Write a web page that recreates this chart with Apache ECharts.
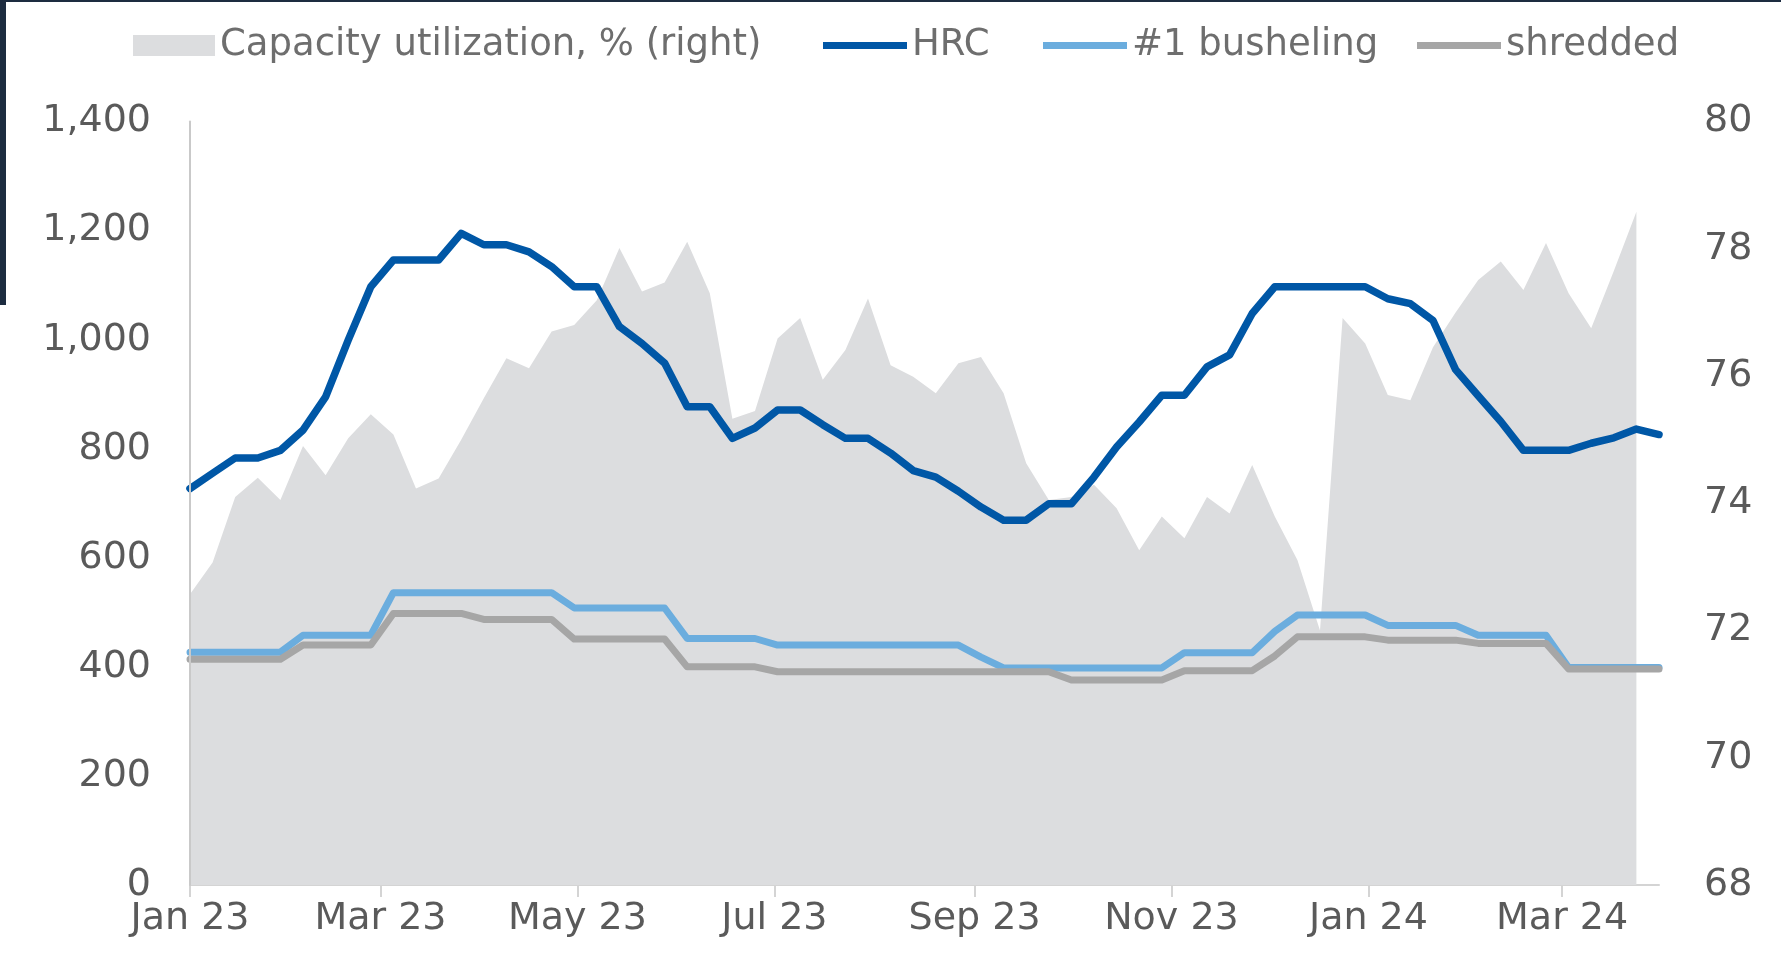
<!DOCTYPE html>
<html>
<head>
<meta charset="utf-8">
<script src="https://cdn.jsdelivr.net/npm/echarts@6/dist/echarts.min.js"></script>
<style>
  html, body { margin: 0; padding: 0; background: #ffffff; }
  #chart { width: 1781px; height: 959px; }
</style>
</head>
<body>
<div id="chart"></div>
<script>
// Weekly observation dates
var weekDates = [
  '2023-01-01','2023-01-08','2023-01-15','2023-01-22','2023-01-29',
  '2023-02-05','2023-02-12','2023-02-19','2023-02-26',
  '2023-03-05','2023-03-12','2023-03-19','2023-03-26',
  '2023-04-02','2023-04-09','2023-04-16','2023-04-23','2023-04-30',
  '2023-05-07','2023-05-14','2023-05-21','2023-05-28',
  '2023-06-04','2023-06-11','2023-06-18','2023-06-25',
  '2023-07-02','2023-07-09','2023-07-16','2023-07-23','2023-07-30',
  '2023-08-06','2023-08-13','2023-08-20','2023-08-27',
  '2023-09-03','2023-09-10','2023-09-17','2023-09-24',
  '2023-10-01','2023-10-08','2023-10-15','2023-10-22','2023-10-29',
  '2023-11-05','2023-11-12','2023-11-19','2023-11-26',
  '2023-12-03','2023-12-10','2023-12-17','2023-12-24','2023-12-31',
  '2024-01-07','2024-01-14','2024-01-21','2024-01-28',
  '2024-02-04','2024-02-11','2024-02-18','2024-02-25',
  '2024-03-03','2024-03-10','2024-03-17','2024-03-24','2024-03-31'
];

// Capacity utilization, % (right axis) - 65 weeks
var capacity = [
  72.57, 73.07, 74.10, 74.40, 74.05, 74.90, 74.44, 75.02, 75.40, 75.08,
  74.23, 74.39, 75.00, 75.65, 76.28, 76.12, 76.70, 76.80, 77.19, 78.01,
  77.33, 77.47, 78.11, 77.30, 75.33, 75.45, 76.59, 76.91, 75.94, 76.41,
  77.22, 76.17, 75.99, 75.73, 76.20, 76.30, 75.73, 74.63, 74.05, 74.10,
  74.29, 73.92, 73.26, 73.79, 73.45, 74.10, 73.84, 74.60, 73.79, 73.11,
  72.00, 76.91, 76.51, 75.70, 75.62, 76.45, 77.00, 77.51, 77.80, 77.35,
  78.09, 77.30, 76.75, 77.65, 78.58
];

// HRC price - 66 weeks
var hrc = [
  727, 755, 783, 783, 797, 834, 895, 999, 1097, 1146,
  1146, 1146, 1195, 1174, 1174, 1161, 1134, 1097, 1097, 1024,
  993, 957, 877, 877, 819, 838, 871, 871, 844, 819,
  819, 792, 760, 748, 722, 693, 669, 669, 699, 699,
  748, 803, 849, 898, 898, 950, 972, 1048, 1097, 1097,
  1097, 1097, 1097, 1075, 1066, 1035, 945, 897, 850, 797,
  797, 797, 810, 820, 836, 826
];

// #1 busheling scrap - 66 weeks
var busheling = [
  427, 427, 427, 427, 427, 458, 458, 458, 458, 536,
  536, 536, 536, 536, 536, 536, 536, 508, 508, 508,
  508, 508, 452, 452, 452, 452, 440, 440, 440, 440,
  440, 440, 440, 440, 440, 418, 398, 398, 398, 398,
  398, 398, 398, 398, 426, 426, 426, 426, 465, 495,
  495, 495, 495, 476, 476, 476, 476, 458, 458, 458,
  458, 399, 399, 399, 399, 399
];

// Shredded scrap - 66 weeks
var shredded = [
  414, 414, 414, 414, 414, 440, 440, 440, 440, 498,
  498, 498, 498, 487, 487, 487, 487, 451, 451, 451,
  451, 451, 400, 400, 400, 400, 391, 391, 391, 391,
  391, 391, 391, 391, 391, 391, 391, 391, 391, 376,
  376, 376, 376, 376, 393, 393, 393, 393, 420, 455,
  455, 455, 455, 449, 449, 449, 449, 443, 443, 443,
  443, 396, 396, 396, 396, 396
];

// X-axis tick dates and labels
var tickDates = ['2023-01-01','2023-03-01','2023-05-01','2023-07-01','2023-09-01','2023-11-01','2024-01-01','2024-03-01'];
var tickLabels = ['Jan 23','Mar 23','May 23','Jul 23','Sep 23','Nov 23','Jan 24','Mar 24'];

// Series names
var seriesNames = ['Capacity utilization, % (right)', 'HRC', '#1 busheling', 'shredded'];
var seriesColors = ['#dcdddf', '#0057a6', '#6badde', '#a6a6a6'];

function parseDate(s) {
  var p = s.split('-');
  return Date.UTC(+p[0], +p[1] - 1, +p[2]);
}
var tickTimes = tickDates.map(parseDate);
function pairs(vals) {
  return vals.map(function (v, i) { return [parseDate(weekDates[i]), v]; });
}

var FONT = '"DejaVu Sans", Verdana, sans-serif';
var TEXT = '#5a5a5a';
var LEG_TEXT = { fontSize: 37, color: '#6e6e6e', fontFamily: FONT };

function lineLegend(name, left) {
  return {
    data: [name], left: left, top: 22,
    icon: 'rect', itemWidth: 84, itemHeight: 7,
    textStyle: LEG_TEXT
  };
}

var chart = echarts.init(document.getElementById('chart'), null, { renderer: 'canvas' });
chart.setOption({
  backgroundColor: '#ffffff',
  animation: false,
  textStyle: { fontFamily: FONT },
  graphic: [
    { type: 'rect', shape: { x: 0, y: 0, width: 1781, height: 2 }, style: { fill: '#1d2c40' }, silent: true },
    { type: 'rect', shape: { x: 0, y: 0, width: 6, height: 305 }, style: { fill: '#1d2c40' }, silent: true }
  ],
  legend: [
    {
      data: [seriesNames[0]], left: 128, top: 22,
      icon: 'rect', itemWidth: 82, itemHeight: 21,
      textStyle: LEG_TEXT
    },
    lineLegend(seriesNames[1], 818),
    lineLegend(seriesNames[2], 1038),
    lineLegend(seriesNames[3], 1412)
  ],
  grid: { left: 190, right: 122, top: 121.5, bottom: 74, containLabel: false },
  xAxis: {
    type: 'value',
    min: parseDate(weekDates[0]),
    max: parseDate(weekDates[weekDates.length - 1]),
    splitLine: { show: false },
    axisLine: { show: true, onZero: false, lineStyle: { color: '#d4d4d4', width: 2 } },
    axisTick: { show: true, length: 12, lineStyle: { color: '#d4d4d4', width: 2 }, customValues: tickTimes },
    axisLabel: {
      customValues: tickTimes,
      margin: 15,
      fontSize: 38,
      color: TEXT,
      fontFamily: FONT,
      formatter: function (val) {
        var idx = tickTimes.indexOf(+val);
        return idx >= 0 ? tickLabels[idx] : '';
      }
    }
  },
  yAxis: [
    {
      type: 'value', min: 0, max: 1400, interval: 200, z: 5,
      splitLine: { show: false },
      axisLine: { show: true, lineStyle: { color: '#c9c9c9', width: 2 } },
      axisTick: { show: false },
      axisLabel: {
        margin: 39, fontSize: 38, color: TEXT, fontFamily: FONT,
        padding: [6, 0, 0, 0],
        formatter: function (v) { return v.toLocaleString('en-US'); }
      }
    },
    {
      type: 'value', min: 68, max: 80, interval: 2, position: 'right',
      splitLine: { show: false },
      axisLine: { show: false },
      axisTick: { show: false },
      axisLabel: { margin: 45, fontSize: 38, color: TEXT, fontFamily: FONT, padding: [6, 0, 0, 0] }
    }
  ],
  series: [
    {
      name: seriesNames[0], type: 'line', yAxisIndex: 1,
      data: pairs(capacity),
      symbol: 'none', showSymbol: false,
      lineStyle: { width: 0, color: seriesColors[0] },
      itemStyle: { color: seriesColors[0] },
      areaStyle: { color: seriesColors[0], opacity: 1, origin: 'start' },
      z: 1
    },
    {
      name: seriesNames[1], type: 'line', yAxisIndex: 0,
      data: pairs(hrc),
      symbol: 'none', showSymbol: false,
      itemStyle: { color: seriesColors[1] },
      lineStyle: { width: 7.5, color: seriesColors[1], join: 'round', cap: 'round' },
      z: 4
    },
    {
      name: seriesNames[2], type: 'line', yAxisIndex: 0,
      data: pairs(busheling),
      symbol: 'none', showSymbol: false,
      itemStyle: { color: seriesColors[2] },
      lineStyle: { width: 7, color: seriesColors[2], join: 'round', cap: 'round' },
      z: 2
    },
    {
      name: seriesNames[3], type: 'line', yAxisIndex: 0,
      data: pairs(shredded),
      symbol: 'none', showSymbol: false,
      itemStyle: { color: seriesColors[3] },
      lineStyle: { width: 7, color: seriesColors[3], join: 'round', cap: 'round' },
      z: 3
    }
  ]
});
</script>
</body>
</html>
